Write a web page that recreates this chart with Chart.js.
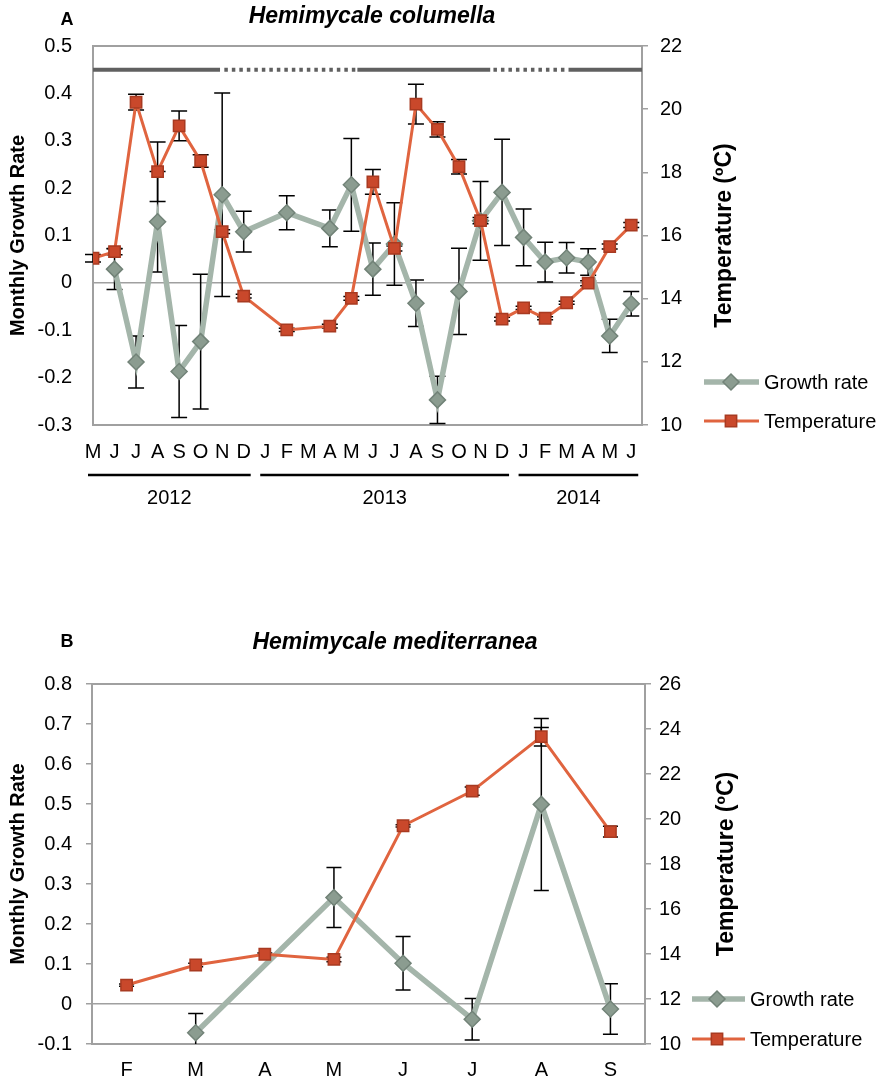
<!DOCTYPE html>
<html><head><meta charset="utf-8">
<script src="https://cdn.jsdelivr.net/npm/chart.js@4.4.1/dist/chart.umd.min.js"></script>
<style>
html,body{margin:0;padding:0;background:#fff;}
#wrap{position:relative;width:887px;height:1083px;overflow:hidden;}
canvas{position:absolute;left:0;}
</style></head><body>
<div id="wrap">
<canvas id="cA" width="887" height="541" style="top:0"></canvas>
<canvas id="cB" width="887" height="542" style="top:541px"></canvas>
</div>
<script>
// ---------- Panel A: Hemimycale columella ----------
const monthsA = ['M','J','J','A','S','O','N','D','J','F','M','A','M','J','J','A','S','O','N','D','J','F','M','A','M','J'];
const growthA = [null,0.029,-0.167,0.129,-0.187,-0.124,0.186,0.108,null,0.148,null,0.115,0.207,0.029,0.082,-0.043,-0.247,-0.018,0.131,0.191,0.096,0.044,0.053,0.044,-0.112,-0.044];
const growthErrA = [null,0.043,0.055,0.106,0.097,0.142,0.215,0.043,null,0.036,null,0.039,0.098,0.055,0.087,0.049,0.050,0.091,0.083,0.112,0.060,0.042,0.032,0.028,0.035,0.026];
const tempA = [15.28,15.49,20.22,18.02,19.47,18.36,16.12,14.08,null,13.01,null,13.13,14.01,17.70,15.59,20.16,19.36,18.18,16.47,13.35,13.71,13.38,13.87,14.49,15.65,16.33];
const tempErrA = [0.12,0.10,0.25,0.94,0.47,0.20,0.06,0.06,null,0.05,null,0.06,0.06,0.39,0.08,0.63,0.24,0.23,0.10,0.06,0.05,0.05,0.05,0.08,0.08,0.08];
const yearsA = ['2012','2013','2014'];
const yearFirstA = [0,8,20];
const yearLastA = [7,19,25];
const periodBarFromA = [0,6.1,12.28,18.6,22.1];
const periodBarToA = [5.9,12.28,18.45,22.1,25.5];
const periodBarDottedA = [false,true,false,true,false];
const periodBarLevelA = 0.45;

// ---------- Panel B: Hemimycale mediterranea ----------
const monthsB = ['F','M','A','M','J','J','A','S'];
const growthB = [null,-0.072,null,0.266,0.102,-0.038,0.499,-0.0125];
const growthErrB = [null,0.048,null,0.075,0.067,0.052,0.215,0.063];
const tempB = [12.62,13.51,13.99,13.76,19.70,21.24,23.66,19.44];
const tempErrB = [0.05,0.08,0.05,0.10,0.05,0.18,0.41,0.24];

const FONT = "'Liberation Sans', Arial, Helvetica, sans-serif";
Chart.defaults.font.family = FONT;
Chart.defaults.font.size = 20;
Chart.defaults.color = '#000';

const AXIS = '#a0a0a0';
const GROWTH_LINE = '#a4b5aa', GROWTH_FILL = '#8b9c90', GROWTH_EDGE = '#728378';
const TEMP_LINE = '#e0643f', TEMP_FILL = '#c9482b', TEMP_EDGE = '#a83a21';

function growthDataset(data, errs){
  return {label:'Growth rate', data, errors:errs, yAxisID:'y', borderColor:GROWTH_LINE, borderWidth:5.5,
    backgroundColor:GROWTH_FILL, pointStyle:'rectRot', pointRadius:8, pointHoverRadius:8,
    pointBackgroundColor:GROWTH_FILL, pointBorderColor:GROWTH_EDGE, pointBorderWidth:1.5,
    spanGaps:true, tension:0, order:2};
}
function tempDataset(data, errs){
  return {label:'Temperature', data, errors:errs, yAxisID:'y1', borderColor:TEMP_LINE, borderWidth:3,
    backgroundColor:TEMP_FILL, pointStyle:'rect', pointRadius:8, pointHoverRadius:8,
    pointBackgroundColor:TEMP_FILL, pointBorderColor:TEMP_EDGE, pointBorderWidth:1.5,
    spanGaps:true, tension:0, order:1};
}
const fmt1 = v => String(Math.round(v*10)/10);

function makeDecor(cfg){
  return {
    id:'decor',
    beforeDatasetsDraw(chart){
      const ctx = chart.ctx, a = chart.chartArea;
      ctx.save();
      ctx.strokeStyle = AXIS; ctx.lineWidth = 2;
      ctx.beginPath(); ctx.moveTo(a.left-1, a.top); ctx.lineTo(a.right+1, a.top); ctx.stroke();
      ctx.beginPath(); ctx.rect(a.left-12, a.top, a.right-a.left+24, a.bottom-a.top); ctx.clip();
      ctx.strokeStyle = '#000'; ctx.lineWidth = 1.5;
      chart.data.datasets.forEach((ds,i)=>{
        if(!ds.errors) return;
        const meta = chart.getDatasetMeta(i);
        const ys = chart.scales[ds.yAxisID];
        ds.data.forEach((d,j)=>{
          const v = (d !== null && typeof d === 'object') ? d.y : d;
          const e = ds.errors[j];
          if(v === null || v === undefined || !e) return;
          const x = meta.data[j].x;
          const yt = ys.getPixelForValue(v+e), yb = ys.getPixelForValue(v-e);
          ctx.beginPath();
          ctx.moveTo(x, yt); ctx.lineTo(x, yb);
          ctx.moveTo(x-cfg.capHalf, yt); ctx.lineTo(x+cfg.capHalf, yt);
          ctx.moveTo(x-cfg.capHalf, yb); ctx.lineTo(x+cfg.capHalf, yb);
          ctx.stroke();
        });
      });
      ctx.restore();
    },
    afterDraw(chart){
      const ctx = chart.ctx, a = chart.chartArea;
      const xs = chart.scales.x, ys = chart.scales.y;
      ctx.save();
      ctx.fillStyle = '#000'; ctx.textBaseline = 'middle';
      ctx.textAlign = 'center';
      ctx.font = `bold 18px ${FONT}`;
      ctx.fillText(cfg.panel, cfg.panelX, cfg.panelY);
      ctx.font = `italic bold 23px ${FONT}`;
      ctx.fillText(cfg.title, cfg.titleX, cfg.titleY);
      // right axis title
      ctx.save();
      ctx.translate(cfg.rightTitleX, (a.top+a.bottom)/2);
      ctx.rotate(-Math.PI/2);
      ctx.font = `bold 23px ${FONT}`;
      ctx.fillText('Temperature (ºC)', 0, 0);
      ctx.restore();
      // period bars
      if(cfg.bars){
        const b = cfg.bars;
        ctx.strokeStyle = '#606060'; ctx.lineWidth = 4; ctx.lineCap = 'butt';
        const y = ys.getPixelForValue(b.level);
        b.from.forEach((f,k)=>{
          ctx.setLineDash(b.dotted[k] ? [3.5,4] : []);
          ctx.beginPath(); ctx.moveTo(xs.getPixelForValue(f), y); ctx.lineTo(xs.getPixelForValue(b.to[k]), y); ctx.stroke();
        });
        ctx.setLineDash([]);
      }
      // year groups
      if(cfg.years){
        const yr = cfg.years;
        ctx.strokeStyle = '#000'; ctx.lineWidth = 2.5;
        ctx.font = `20px ${FONT}`; ctx.textAlign = 'center'; ctx.fillStyle = '#000';
        yr.labels.forEach((lab,k)=>{
          const x1 = xs.getPixelForValue(yr.first[k]) - 5;
          const x2 = xs.getPixelForValue(yr.last[k]) + 7;
          ctx.beginPath(); ctx.moveTo(x1, yr.lineY); ctx.lineTo(x2, yr.lineY); ctx.stroke();
          ctx.fillText(lab, (x1+x2)/2, yr.textY);
        });
      }
      // legend
      const L = cfg.legend;
      L.rows.forEach((rowY,k)=>{
        const ds = chart.data.datasets[k];
        ctx.strokeStyle = ds.borderColor; ctx.lineWidth = ds.borderWidth;
        ctx.beginPath(); ctx.moveTo(L.x1, rowY); ctx.lineTo(L.x2, rowY); ctx.stroke();
        ctx.fillStyle = ds.pointBackgroundColor; ctx.strokeStyle = ds.pointBorderColor; ctx.lineWidth = ds.pointBorderWidth;
        Chart.helpers.drawPoint(ctx, {pointStyle:ds.pointStyle, radius:ds.pointRadius, rotation:0, borderWidth:ds.pointBorderWidth}, L.mx, rowY);
        ctx.fillStyle = '#000'; ctx.textAlign = 'left'; ctx.textBaseline = 'middle';
        ctx.font = `20px ${FONT}`;
        ctx.fillText(ds.label, L.tx, rowY + 1);
      });
      ctx.restore();
    }
  };
}

// ---------- Chart A ----------
new Chart(document.getElementById('cA'), {
  type:'line',
  data:{datasets:[
    growthDataset(growthA.map((v,i)=>({x:i,y:v})), growthErrA),
    tempDataset(tempA.map((v,i)=>({x:i,y:v})), tempErrA)
  ]},
  options:{
    responsive:false, animation:false, events:[],
    layout:{padding:{top:46,left:0,right:0,bottom:0}},
    plugins:{legend:{display:false}, tooltip:{enabled:false}},
    scales:{
      x:{type:'linear', min:0, max:monthsA.length-0.5,
        afterBuildTicks: s => { s.ticks = monthsA.map((m,i)=>({value:i})); },
        ticks:{autoSkip:false, maxRotation:0, minRotation:0, padding:15, callback: v => monthsA[v] ?? ''},
        grid:{display:false, drawTicks:false}, border:{display:true, color:AXIS, width:2},
        afterFit: s => { s.height = 116; }},
      y:{position:'left', min:-0.3, max:0.5,
        ticks:{stepSize:0.1, padding:21, callback: v => fmt1(v)},
        grid:{color: c => (c.tick && Math.abs(c.tick.value) < 1e-9) ? AXIS : 'rgba(0,0,0,0)', lineWidth:1.5, drawTicks:false},
        border:{display:true, color:AXIS, width:2},
        title:{display:true, text:'Monthly Growth Rate', font:{size:20, weight:'bold'}, padding:{top:6}},
        afterFit: s => { s.width = 93; }},
      y1:{position:'right', min:10, max:22,
        ticks:{stepSize:2, padding:12},
        grid:{drawOnChartArea:false, drawTicks:true, tickLength:6, tickColor:AXIS, lineWidth:1.5},
        border:{display:true, color:AXIS, width:2},
        afterFit: s => { s.width = 245; }}
    }
  },
  plugins:[makeDecor({
    capHalf:8, panel:'A', panelX:67, panelY:20, title:'Hemimycale columella', titleX:372, titleY:17,
    rightTitleX:725,
    bars:{level:periodBarLevelA, from:periodBarFromA, to:periodBarToA, dotted:periodBarDottedA},
    years:{labels:yearsA, first:yearFirstA, last:yearLastA, lineY:475, textY:498},
    legend:{rows:[382,421], x1:704, x2:759, mx:731, tx:764}
  })]
});

// ---------- Chart B ----------
new Chart(document.getElementById('cB'), {
  type:'line',
  data:{labels:monthsB, datasets:[
    growthDataset(growthB, growthErrB),
    tempDataset(tempB, tempErrB)
  ]},
  options:{
    responsive:false, animation:false, events:[],
    layout:{padding:{top:143,left:0,right:0,bottom:0}},
    plugins:{legend:{display:false}, tooltip:{enabled:false}},
    scales:{
      x:{type:'category', offset:true,
        ticks:{autoSkip:false, maxRotation:0, minRotation:0, padding:14},
        grid:{display:false, drawTicks:false}, border:{display:true, color:AXIS, width:2},
        afterFit: s => { s.height = 39; }},
      y:{position:'left', min:-0.1, max:0.8,
        ticks:{stepSize:0.1, padding:14, callback: v => fmt1(v)},
        grid:{color: c => (c.tick && Math.abs(c.tick.value) < 1e-9) ? AXIS : 'rgba(0,0,0,0)', lineWidth:1.5, drawTicks:true, tickLength:6, tickColor:AXIS},
        border:{display:true, color:AXIS, width:2},
        title:{display:true, text:'Monthly Growth Rate', font:{size:20, weight:'bold'}, padding:{top:6}},
        afterFit: s => { s.width = 92; }},
      y1:{position:'right', min:10, max:26,
        ticks:{stepSize:2, padding:8},
        grid:{drawOnChartArea:false, drawTicks:true, tickLength:6, tickColor:AXIS, lineWidth:1.5},
        border:{display:true, color:AXIS, width:2},
        afterFit: s => { s.width = 242; }}
    }
  },
  plugins:[makeDecor({
    capHalf:7.5, panel:'B', panelX:67, panelY:101, title:'Hemimycale mediterranea', titleX:395, titleY:102,
    rightTitleX:727,
    legend:{rows:[458,498], x1:692, x2:745, mx:717, tx:750}
  })]
});
</script>
</body></html>
